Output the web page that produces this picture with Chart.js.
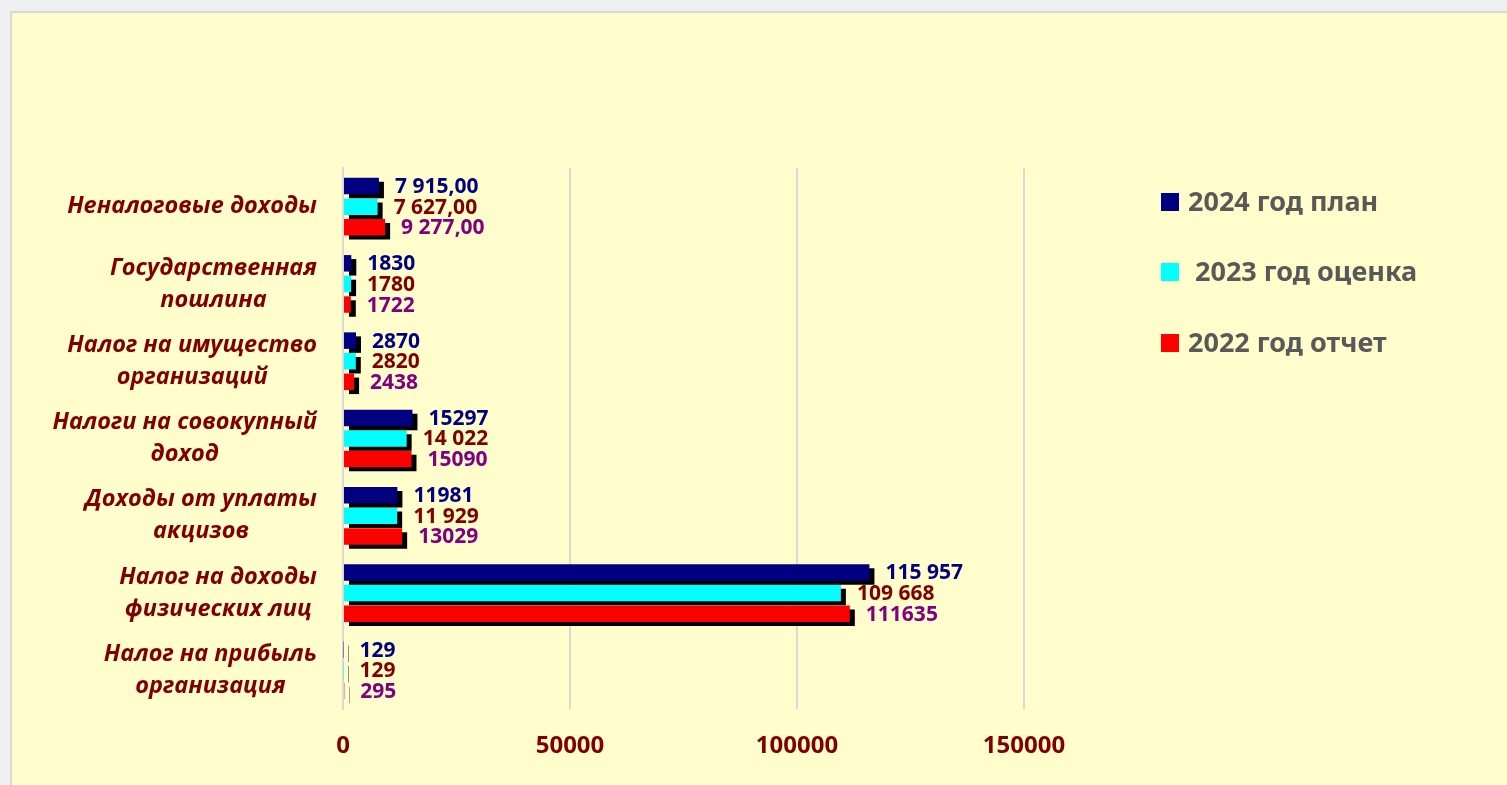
<!DOCTYPE html>
<html lang="ru">
<head>
<meta charset="utf-8">
<title>Налоговые и неналоговые доходы</title>
<script src="https://cdn.jsdelivr.net/npm/chart.js@4.4.1/dist/chart.umd.min.js"></script>
<style>
  html, body { margin: 0; padding: 0; background: #f0f0f0; overflow: hidden; }
  .panel {
    position: absolute;
    left: 10px;
    top: 11px;
    width: 1510px;
    height: 790px;
    background: #fffdcc;
    border-left: 2px solid #d8d8d8;
    border-top: 2px solid #d8d8d8;
  }
  #chart { position: absolute; left: 0; top: 0; }
</style>
</head>
<body>
<div class="panel"></div>
<canvas id="chart" width="1507" height="785"></canvas>
<script>
/**
 * Data.
 */
const categories = [
  ['Неналоговые доходы'],
  ['Государственная', 'пошлина'],
  ['Налог на имущество', 'организаций'],
  ['Налоги на совокупный', 'доход'],
  ['Доходы от уплаты', 'акцизов'],
  ['Налог на доходы', 'физических лиц'],
  ['Налог на прибыль', 'организация'],
];
const seriesNames = ['2024 год план', ' 2023 год оценка', '2022 год отчет'];
const plan2024 = [7915, 1830, 2870, 15297, 11981, 115957, 129];
const estimate2023 = [7627, 1780, 2820, 14022, 11929, 109668, 129];
const report2022 = [9277, 1722, 2438, 15090, 13029, 111635, 295];
const plan2024Labels = ['7 915,00', '1830', '2870', '15297', '11981', '115 957', '129'];
const estimate2023Labels = ['7 627,00', '1780', '2820', '14 022', '11 929', '109 668', '129'];
const report2022Labels = ['9 277,00', '1722', '2438', '15090', '13029', '111635', '295'];
const xTickValues = [0, 50000, 100000, 150000];

/**
 * Styles.
 */
const barColors = ['#000080', '#00ffff', '#ff0000'];
const valueColors = ['#000080', '#800000', '#800080'];
const valueLabels = [plan2024Labels, estimate2023Labels, report2022Labels];
const FONT = '"Noto Sans", "Open Sans", sans-serif';
const ITALIC_FONT = '"Open Sans", "Noto Sans", sans-serif';

/**
 * Black offset shadow under every bar.
 */
const barShadow = {
  id: 'barShadow',
  beforeDatasetsDraw(chart) {
    const { ctx } = chart;
    ctx.save();
    ctx.shadowColor = '#000000';
    ctx.shadowBlur = 0;
    ctx.shadowOffsetX = 5;
    ctx.shadowOffsetY = 4;
  },
  afterDatasetsDraw(chart) {
    chart.ctx.restore();
  },
};

/**
 * Value labels at the end of each bar.
 */
const valueText = {
  id: 'valueText',
  afterDatasetsDraw(chart) {
    const { ctx } = chart;
    ctx.save();
    ctx.font = `bold 21px ${FONT}`;
    ctx.textAlign = 'left';
    ctx.textBaseline = 'middle';
    chart.data.datasets.forEach((ds, i) => {
      ctx.fillStyle = valueColors[i];
      chart.getDatasetMeta(i).data.forEach((bar, j) => {
        ctx.fillText(valueLabels[i][j], bar.x + 16, bar.y + 1);
      });
    });
    ctx.restore();
  },
};

/**
 * Category names: block right-aligned, lines centred inside the block.
 */
const categoryText = {
  id: 'categoryText',
  afterDraw(chart) {
    const { ctx } = chart;
    const yScale = chart.scales.y;
    const right = 317;
    const lineHeight = 32;
    ctx.save();
    ctx.font = `italic bold 23.5px ${ITALIC_FONT}`;
    ctx.fillStyle = '#800000';
    ctx.textAlign = 'center';
    ctx.textBaseline = 'middle';
    chart.data.labels.forEach((label, j) => {
      const lines = Array.isArray(label) ? label : [label];
      const width = Math.max(...lines.map((l) => ctx.measureText(l).width));
      const cx = right - width / 2;
      const cy = yScale.getPixelForTick(j);
      lines.forEach((line, k) => {
        ctx.fillText(line, cx, cy + (k - (lines.length - 1) / 2) * lineHeight);
      });
    });
    ctx.restore();
  },
};

/**
 * Legend on the right.
 */
const sideLegend = {
  id: 'sideLegend',
  afterDraw(chart) {
    const { ctx } = chart;
    const rows = [202, 272, 343];
    ctx.save();
    ctx.font = `bold 27px ${FONT}`;
    ctx.textAlign = 'left';
    ctx.textBaseline = 'middle';
    chart.data.datasets.forEach((ds, i) => {
      ctx.fillStyle = ds.backgroundColor;
      ctx.fillRect(1161, rows[i] - 9, 18, 18);
      ctx.fillStyle = '#595959';
      ctx.fillText(ds.label, 1188, rows[i] + 1);
    });
    ctx.restore();
  },
};

const datasets = [plan2024, estimate2023, report2022].map((values, i) => ({
  label: seriesNames[i],
  data: values,
  backgroundColor: barColors[i],
  borderWidth: 0,
  categoryPercentage: 0.8,
  barPercentage: 0.8,
}));

new Chart(document.getElementById('chart').getContext('2d'), {
  type: 'bar',
  data: { labels: categories, datasets },
  plugins: [barShadow, valueText, categoryText, sideLegend],
  options: {
    indexAxis: 'y',
    responsive: false,
    animation: false,
    devicePixelRatio: 1,
    layout: { padding: { left: 0, top: 168, right: 483, bottom: 0 } },
    plugins: {
      legend: { display: false },
      tooltip: { enabled: false },
    },
    scales: {
      x: {
        min: 0,
        max: 150000,
        afterBuildTicks: (scale) => {
          scale.ticks = xTickValues.map((v) => ({ value: v }));
        },
        afterFit: (scale) => {
          scale.height = 76;
        },
        grid: { color: '#d9d9d9', lineWidth: 2, drawTicks: false },
        border: { display: false },
        ticks: {
          padding: 23,
          color: '#800000',
          font: { family: FONT, size: 24, weight: 'bold' },
          callback: (v) => String(v),
        },
      },
      y: {
        afterFit: (scale) => {
          scale.width = 343;
        },
        grid: { display: false },
        border: { display: true, color: '#d9d9d9', width: 2 },
        ticks: { display: false },
      },
    },
  },
});
</script>
</body>
</html>
